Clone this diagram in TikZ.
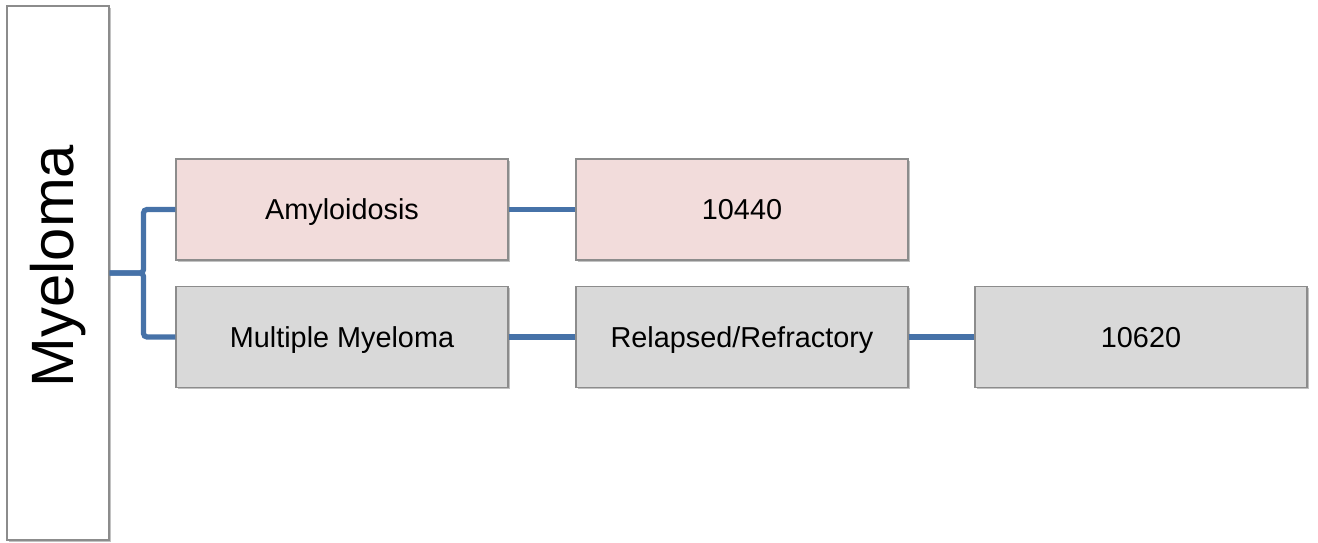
\documentclass[tikz,border=0pt]{standalone}
\usepackage{fontspec}
\setmainfont{Liberation Sans}
\usepackage{tikz}
\usetikzlibrary{positioning, shadows}

\definecolor{linkblue}{HTML}{4672A8}
\definecolor{rosefill}{HTML}{F2DCDB}
\definecolor{greyfill}{HTML}{D9D9D9}
\definecolor{edgegrey}{HTML}{8C8C8C}

\tikzset{
  catbox/.style={rectangle, draw=edgegrey, line width=0.6pt, minimum width=6.64cm, minimum height=2.02cm, text height=14pt, text depth=2.5pt, font=\fontsize{16.4}{19}\selectfont, drop shadow={shadow xshift=0.9pt, shadow yshift=-0.9pt, opacity=0.4, fill=black!60}},
  rosebox/.style={catbox, fill=rosefill},
  greybox/.style={catbox, fill=greyfill},
  link/.style={draw=linkblue, line width=3pt, rounded corners=2pt}
}

\begin{document}
\begin{tikzpicture}
\useasboundingbox (0,0) rectangle (26.36,-10.86);

% Root
\node[rectangle, draw=edgegrey, line width=0.6pt, fill=white, minimum width=2.04cm, minimum height=10.68cm, drop shadow={shadow xshift=0.9pt, shadow yshift=-0.9pt, opacity=0.4, fill=black!60}] (myeloma) at (1.16,-5.46) {};
\node[rotate=90, font=\fontsize{34}{40}\selectfont] (myelomalabel) at ([yshift=0.14cm]myeloma.center) {Myeloma};

% Row 1
\node[rosebox] (amyloid) at (6.84,-4.19) {Amyloidosis};
\node[rosebox] (amycode) at (14.84,-4.19) {10440};

% Row 2
\node[greybox] (multiple) at (6.84,-6.74) {Multiple Myeloma};
\node[greybox] (relapsed) at (14.84,-6.74) {Relapsed/Refractory};
\node[greybox] (mmcode) at (22.82,-6.74) {10620};

% Links
\draw[link] (myeloma.east) -- ++(0.68,0) |- (amyloid.west);
\draw[link] (myeloma.east) -- ++(0.68,0) |- (multiple.west);
\draw[link] (amyloid) -- (amycode);
\draw[link] (multiple) -- (relapsed);
\draw[link] (relapsed) -- (mmcode);

\end{tikzpicture}
\end{document}
